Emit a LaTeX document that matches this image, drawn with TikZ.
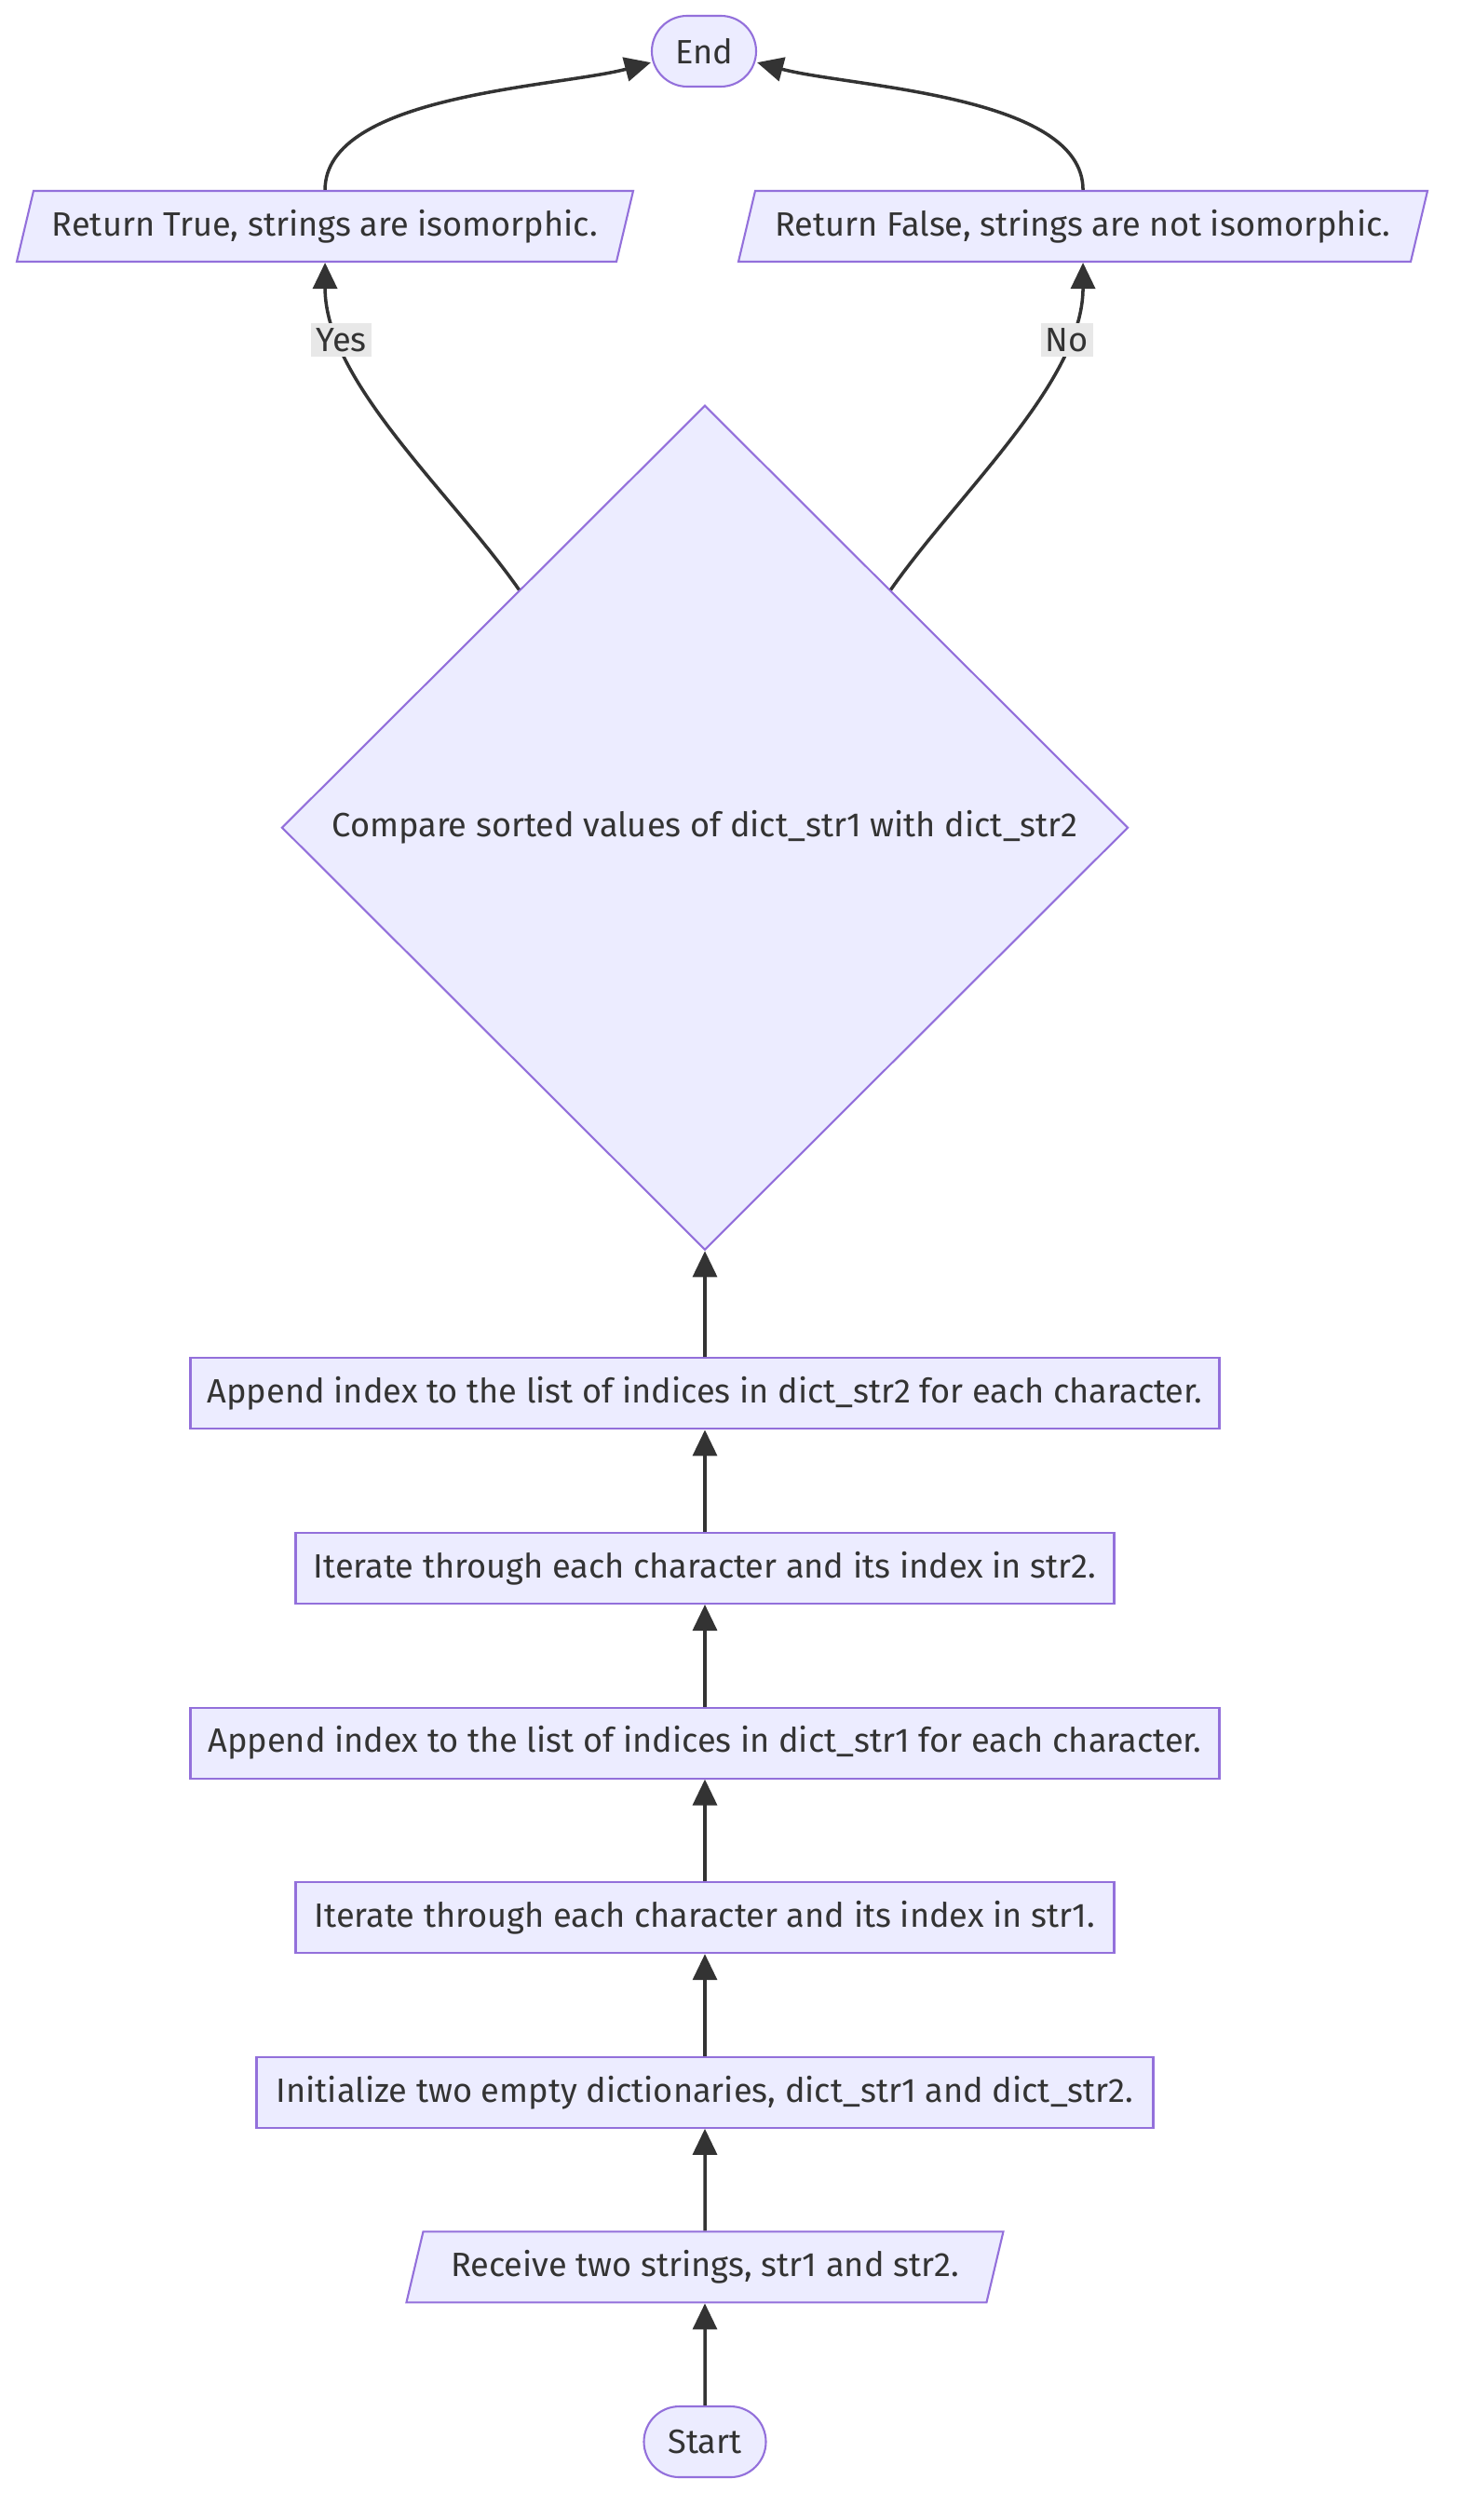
\documentclass[tikz,border=0pt]{standalone}
\usepackage{fontspec}
\setmainfont{Fira Sans}
\usepackage{tikz}
\usetikzlibrary{arrows.meta,positioning,shapes.geometric,calc}
\definecolor{nodefill}{HTML}{ECECFF}
\definecolor{nodeline}{HTML}{9370DB}
\definecolor{edgeline}{HTML}{333333}
\definecolor{lblfill}{HTML}{E8E8E8}
\newcommand{\mmfont}{\fontsize{10.3}{12}\selectfont}
\tikzset{
  procbox/.style={
    rectangle, draw=nodeline, fill=nodefill, line width=0.6pt,
    minimum height=0.76cm, inner sep=0pt,
    font=\mmfont, text=edgeline, align=center
  },
  iobox/.style={
    trapezium, trapezium left angle=63.4, trapezium right angle=116.6,
    trapezium stretches body, draw=nodeline, fill=nodefill, line width=0.6pt,
    minimum height=0.76cm, inner sep=0pt,
    font=\mmfont, text=edgeline, align=center
  },
  termbox/.style={
    rectangle, rounded corners=0.38cm, draw=nodeline, fill=nodefill,
    line width=0.6pt, minimum height=0.76cm, inner sep=0pt,
    font=\mmfont, text=edgeline, align=center
  },
  decision/.style={
    diamond, draw=nodeline, fill=nodefill, line width=0.6pt,
    minimum width=9.09cm, minimum height=9.07cm, inner sep=0pt,
    font=\mmfont, text=edgeline, align=center
  },
  flow/.style={-{Triangle[length=2.8mm,width=2.6mm]}, line width=1pt, draw=edgeline},
  edgelabel/.style={fill=lblfill, font=\mmfont, text=edgeline, inner sep=1.5pt},
}

\begin{document}
\begin{tikzpicture}[node distance=1.095cm]
  \useasboundingbox (0,0) rectangle (15.68,-27.06);

  % Main chain, bottom to top
  \node[termbox, minimum width=1.31cm] (start) at (7.57,-26.22) {Start};
  \node[iobox, minimum width=6.41cm, above=of start] (recv)
        {Receive two strings, str1 and str2.};
  \node[procbox, minimum width=9.63cm, above=of recv] (init)
        {Initialize two empty dictionaries, dict\_str1 and dict\_str2.};
  \node[procbox, minimum width=8.79cm, above=of init] (iter1)
        {Iterate through each character and its index in str1.};
  \node[procbox, minimum width=11.05cm, above=of iter1] (app1)
        {Append index to the list of indices in dict\_str1 for each character.};
  \node[procbox, minimum width=8.79cm, above=of app1] (iter2)
        {Iterate through each character and its index in str2.};
  \node[procbox, minimum width=11.05cm, above=of iter2] (app2)
        {Append index to the list of indices in dict\_str2 for each character.};
  \node[decision, above=1.14cm of app2] (cmp)
        {Compare sorted values of dict\_str1 with dict\_str2};

  % Results and end
  \node[iobox, minimum width=6.62cm] (rettrue) at (3.49,-2.43)
        {Return True, strings are isomorphic.};
  \node[iobox, minimum width=7.40cm] (retfalse) at (11.63,-2.43)
        {Return False, strings are not isomorphic.};
  \node[termbox, minimum width=1.12cm] (stop) at (7.56,-0.55) {End};

  % Chain arrows
  \draw[flow] (start) -- (recv);
  \draw[flow] (recv)  -- (init);
  \draw[flow] (init)  -- (iter1);
  \draw[flow] (iter1) -- (app1);
  \draw[flow] (app1)  -- (iter2);
  \draw[flow] (iter2) -- (app2);
  \draw[flow] (app2)  -- (cmp);

  % Branches
  \draw[flow] (cmp.128) to[out=125,in=-90,looseness=0.8]
        node[edgelabel,pos=0.78]{Yes} (rettrue.south);
  \draw[flow] (cmp.52) to[out=55,in=-90,looseness=0.8]
        node[edgelabel,pos=0.78]{No} (retfalse.south);
  \draw[flow] (rettrue.north) to[out=90,in=195,looseness=0.7] (stop.192);
  \draw[flow] (retfalse.north) to[out=90,in=-15,looseness=0.7] (stop.-12);

\end{tikzpicture}
\end{document}
